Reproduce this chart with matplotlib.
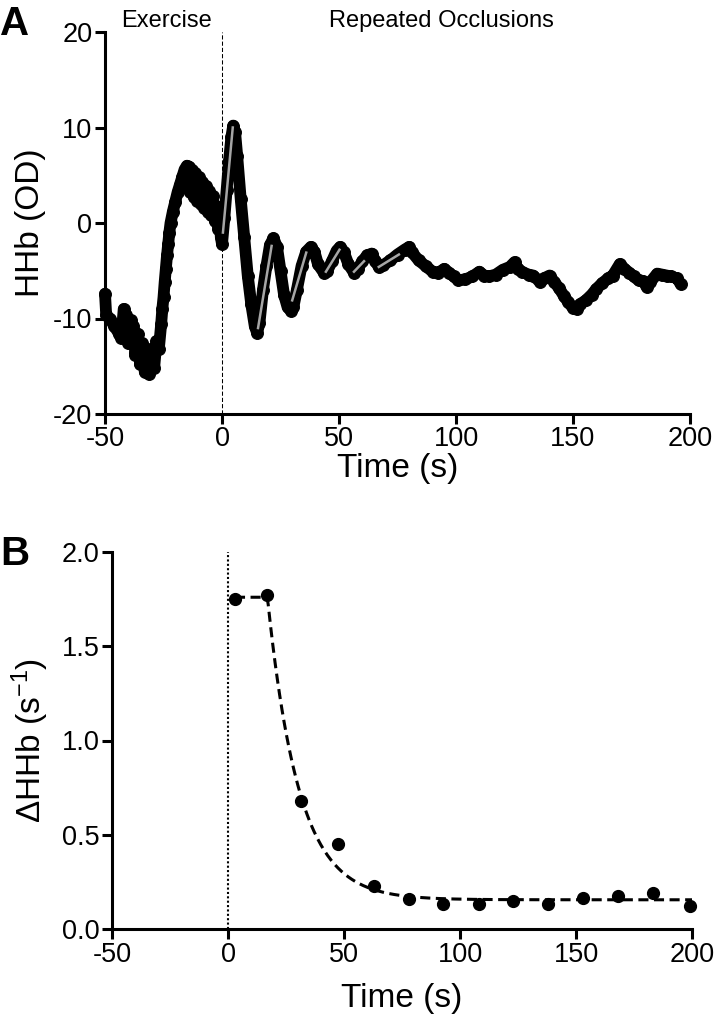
import numpy as np
import matplotlib.pyplot as plt

plt.rcParams['font.family'] = ['Liberation Sans', 'DejaVu Sans']
plt.rcParams['axes.unicode_minus'] = False
plt.rcParams['mathtext.fontset'] = 'custom'
plt.rcParams['mathtext.rm'] = 'Liberation Sans'
plt.rcParams['mathtext.it'] = 'Liberation Sans:italic'
plt.rcParams['mathtext.bf'] = 'Liberation Sans:bold'

# --- panel A: HHb trace (exercise, then repeated occlusions) ---
hhb_time = [
    -50, -49.5, -48, -46, -44, -43, -42, -41, -40, -39, -38, -37, -36, -35,
    -34, -33, -32, -31, -30, -29, -28, -27, -26, -25.5, -25, -24.5, -24,
    -23.5, -23, -22.5, -22, -21, -20, -19, -18, -17, -16, -15, -14, -13.5,
    -13, -12, -11.5, -10.5, -10, -9, -8.5, -7.5, -7, -6, -5.5, -4.5, -4, -3,
    -2.5, -1.5, -1, -0.5, 0,
    1, 2, 3, 4, 4.8, 5.6, 6.5, 8, 9.5, 11, 12.5, 14, 15, 16, 17.5, 19, 20.5,
    22, 23.5, 25, 26.5, 28, 29.5, 30.5, 32, 34, 36, 38, 39.5, 41, 43.5, 45,
    47, 49, 50.5, 52, 54, 56.4, 58, 60, 62, 64, 65.5, 67, 69, 72, 75, 78, 80,
    81, 84, 87, 90, 92.5, 95, 97, 99, 101, 104, 107, 110, 112, 114, 117, 120,
    123, 125, 126.5, 128, 131, 133, 136, 137.5, 140, 142, 144, 146, 148, 150,
    151.5, 153, 155.5, 158, 160, 162.5, 165, 167, 170, 172, 174, 176, 178,
    180, 181.5, 183, 186, 188, 190, 192, 194.5, 196,
]
hhb_od = [
    -7.4, -9.6, -10.0, -10.8, -11.6, -12.0, -9.0, -9.6, -12.6, -10.2, -10.8,
    -13.8, -11.6, -14.8, -12.6, -15.6, -13.2, -15.8, -13.2, -15.2, -12.4,
    -13.2, -10.6, -9.0, -7.8, -6.2, -4.8, -3.4, -2.2, -1.0, 0.0, 1.2, 2.2,
    3.2, 4.0, 4.8, 5.6, 6.0, 5.9, 3.2, 5.6, 2.7, 5.2, 2.3, 4.8, 2.0, 4.3,
    1.6, 3.9, 1.2, 3.3, 0.8, 2.8, 0.2, 1.8, -0.6, 0.6, -1.5, -2.2,
    0.5, 3.5, 6.5, 9.0, 10.2, 9.5, 7.0, 2.5, -1.5, -5.5, -8.5, -10.8, -11.5,
    -10.5, -7.0, -4.5, -2.3, -1.6, -2.5, -5.0, -7.5, -8.8, -9.2, -8.8, -7.0,
    -4.5, -3.0, -2.5, -3.0, -4.3, -5.2, -5.0, -4.0, -2.9, -2.5, -3.0, -4.3,
    -5.2, -4.8, -4.0, -3.4, -3.2, -4.0, -4.6, -4.4, -3.9, -3.3, -2.8, -2.5,
    -3.0, -3.9, -4.5, -5.1, -5.2, -4.8, -5.2, -5.6, -6.0, -5.9, -5.6, -5.1,
    -5.5, -5.6, -5.4, -4.9, -4.6, -4.1, -4.8, -5.1, -5.4, -5.5, -6.2, -5.8,
    -5.5, -6.2, -6.8, -7.6, -8.3, -8.9, -9.0, -8.5, -8.1, -7.5, -6.9, -6.3,
    -5.8, -5.5, -4.3, -4.8, -5.2, -5.6, -6.0, -6.1, -6.7, -6.2, -5.3, -5.4,
    -5.5, -5.6, -5.8, -6.4,
]

# linear fits on the occlusion upslopes
slope_t_start = [0.4, 15.4, 30.0, 44.4, 56.4, 67.0]
slope_t_end = [4.6, 21.2, 36.0, 50.2, 60.7, 75.6]
slope_y_start = [-1.0, -11.0, -8.1, -5.1, -5.1, -4.6]
slope_y_end = [10.0, -2.4, -3.1, -2.8, -4.0, -3.3]

# --- panel B: upslope rate per occlusion ---
rate_time = [3, 17, 31.5, 47.5, 63, 78, 92.5, 108, 123, 138, 153, 168, 183, 199]
rate_value = [1.75, 1.77, 0.68, 0.45, 0.23, 0.16, 0.13, 0.13, 0.15, 0.13,
              0.165, 0.175, 0.19, 0.12]

# mono-exponential fit with plateau
fit_plateau = 1.76
fit_delay = 17.0
fit_baseline = 0.155
fit_tau = 13.5
fit_t_first = 3.0
fit_t_last = 200.0


def style_axes(ax):
    for side in ['top', 'right']:
        ax.spines[side].set_visible(False)
    for side in ['left', 'bottom']:
        ax.spines[side].set_linewidth(2.2)
    ax.tick_params(width=2.2, length=7, labelsize=19.5, pad=2, direction='out')


W, H = 717, 1027
fig = plt.figure(figsize=(W / 100, H / 100), dpi=100)

# panel A
axA = fig.add_axes([105 / W, 1 - 414 / H, 585 / W, 382 / H])
style_axes(axA)
axA.set_xlim(-50, 200)
axA.set_ylim(-20, 20)
axA.set_xticks([-50, 0, 50, 100, 150, 200])
axA.set_yticks([-20, -10, 0, 10, 20])
axA.plot([0, 0], [-20, 20], color='k', lw=0.75, dashes=(4, 2), zorder=2)
axA.plot(hhb_time, hhb_od, '-o', color='k', lw=8.5, ms=8.5, mew=0.8,
         solid_capstyle='round', solid_joinstyle='round', clip_on=False, zorder=3)
for t0, t1, y0, y1 in zip(slope_t_start, slope_t_end, slope_y_start, slope_y_end):
    axA.plot([t0, t1], [y0, y1], color='#a6a6a6', lw=1.8, zorder=4)

tr = axA.get_xaxis_transform()
axA.text(-43, 1.013, 'Exercise', transform=tr, ha='left', va='baseline', fontsize=17)
axA.text(45.7, 1.013, 'Repeated Occlusions', transform=tr, ha='left', va='baseline', fontsize=17)

# panel B
axB = fig.add_axes([112 / W, 1 - 929 / H, 580 / W, 377 / H])
style_axes(axB)
axB.set_xlim(-50, 200)
axB.set_ylim(0, 2)
axB.set_xticks([-50, 0, 50, 100, 150, 200])
axB.set_yticks([0, 0.5, 1.0, 1.5, 2.0])
axB.set_yticklabels(['%.1f' % v for v in [0, 0.5, 1.0, 1.5, 2.0]])
axB.plot([0, 0], [0, 2], color='k', lw=1.5, ls=(0, (1, 1.1)), zorder=2)

t_fit = np.linspace(fit_t_first, fit_t_last, 400)
y_fit = np.where(t_fit < fit_delay, fit_plateau,
                 fit_baseline + (fit_plateau - fit_baseline) * np.exp(-(t_fit - fit_delay) / fit_tau))
axB.plot(t_fit, y_fit, color='k', lw=2.2, dashes=(3.3, 1.8), zorder=3)
axB.plot(rate_time, rate_value, 'o', color='k', ms=8.5, clip_on=False, zorder=4)

# labels
fig.text(31 / W, 1 - 223 / H, 'HHb (OD)', rotation=90, ha='center', va='center', fontsize=24)
fig.text(30 / W, 1 - 740 / H, r'$\Delta$HHb (s$^{-1}$)', rotation=90, ha='center', va='center', fontsize=24)
fig.text(397.5 / W, 1 - 468 / H, 'Time (s)', ha='center', va='center', fontsize=24)
fig.text(402 / W, 1 - 998 / H, 'Time (s)', ha='center', va='center', fontsize=24)
fig.text(0.0, 1 - 35 / H, 'A', fontsize=29, fontweight='bold', ha='left', va='baseline')
fig.text(0.0, 1 - 565 / H, 'B', fontsize=29, fontweight='bold', ha='left', va='baseline')

fig.savefig('out.png', dpi=100)
